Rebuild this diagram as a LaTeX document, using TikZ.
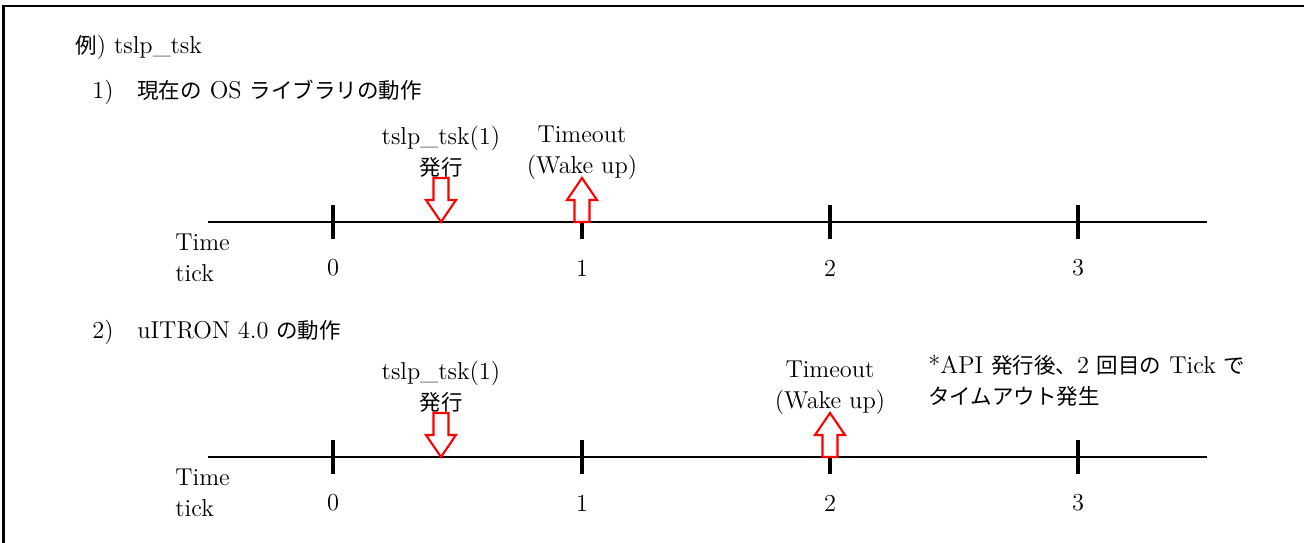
\documentclass[tikz,border=0pt]{standalone}
\usepackage{fontspec}
\newfontfamily\jp[Scale=0.88]{Noto Sans CJK JP}
\usepackage{tikz}

\tikzset{
  axis/.style={line width=1.1pt},
  tickmark/.style={line width=2.3pt},
  hollow/.style={draw=red, line width=1.2pt, fill=white, line join=miter},
  txt/.style={inner sep=0pt, font=\fontsize{13.9}{17.5}\selectfont},
}
\newcommand{\hollowdown}[1]{\draw[hollow, shift={(#1)}] (-7.5,-44) -- (7.5,-44) -- (7.5,-22) -- (15,-22) -- (0,0) -- (-15,-22) -- (-7.5,-22) -- cycle;}
\newcommand{\hollowup}[1]{\draw[hollow, shift={(#1)}] (-7.5,0) -- (7.5,0) -- (7.5,-22) -- (15,-22) -- (0,-44) -- (-15,-22) -- (-7.5,-22) -- cycle;}

\begin{document}
\begin{tikzpicture}[x=0.02cm, y=-0.02cm]
\useasboundingbox (0,0) rectangle (1304,543);
\draw[line width=1.3pt] (3.5,543) -- (3.5,6) -- (1304,6);

\node[txt, anchor=west] (title) at (75,47) {{\jp 例}) tslp\_tsk};
\node[txt, anchor=west] (case1) at (92,92) {1)\hspace{13.5pt}{\jp 現在の} OS {\jp ライブラリの動作}};
\node[txt, anchor=west] (case2) at (92,332) {2)\hspace{13.5pt}uITRON 4.0 {\jp の動作}};

% 1) current library
\coordinate (a1) at (208,222);
\coordinate (b1) at (1207,222);
\draw[axis] (a1) -- (b1);
\foreach \x/\n in {333/0,582/1,830/2,1078/3}{
  \draw[tickmark] (\x,205) -- (\x,239);
  \node[txt] (m1\n) at (\x,268) {\n};
}
\node[txt, anchor=west, align=left] (time1) at (175,258) {Time\\tick};
\node[txt, align=center] (call1) at (441,152) {tslp\_tsk(1)\\{\jp 発行}};
\node[txt, align=center] (wake1) at (582,153) {Timeout\\(Wake up)};
\coordinate (d1) at (441,222);
\coordinate (u1) at (582,222);
\hollowdown{d1}
\hollowup{u1}

% 2) uITRON 4.0
\coordinate (a2) at (208,457);
\coordinate (b2) at (1207,457);
\draw[axis] (a2) -- (b2);
\foreach \x/\n in {333/0,582/1,830/2,1078/3}{
  \draw[tickmark] (\x,440) -- (\x,474);
  \node[txt] (m2\n) at (\x,503) {\n};
}
\node[txt, anchor=west, align=left] (time2) at (175,493) {Time\\tick};
\node[txt, align=center] (call2) at (441,387) {tslp\_tsk(1)\\{\jp 発行}};
\node[txt, align=center] (wake2) at (830,388) {Timeout\\(Wake up)};
\node[txt, anchor=west, align=left] (note) at (928,381) {*API {\jp 発行後、}2 {\jp 回目の} Tick {\jp で}\\{\jp タイムアウト発生}};
\coordinate (d2) at (441,457);
\coordinate (u2) at (830,457);
\hollowdown{d2}
\hollowup{u2}
\end{tikzpicture}
\end{document}
